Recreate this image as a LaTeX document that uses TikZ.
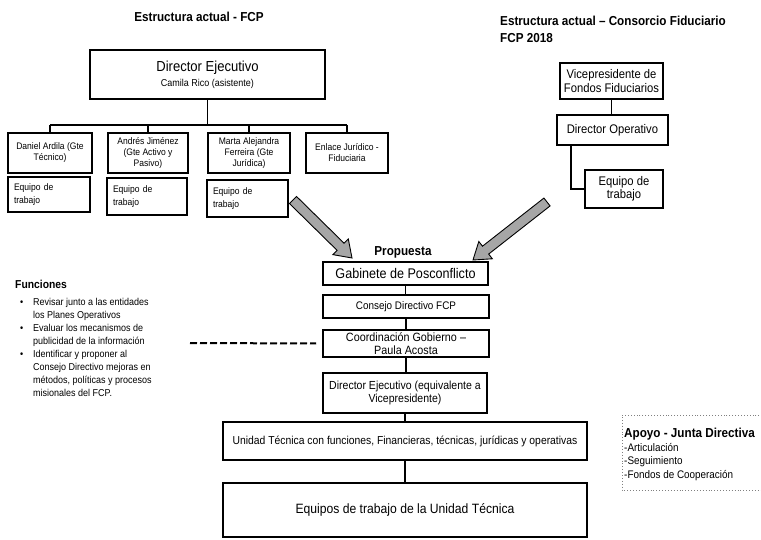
\documentclass[tikz,border=0pt]{standalone}
\usepackage{fontspec}
\setmainfont{Liberation Sans}[FakeStretch=0.9]
\usetikzlibrary{calc}
\newcommand\fsz[2]{\fontsize{#1}{#2}\selectfont}
\newcommand\fatarrow[2]{%
  \coordinate (hb) at ($(#2)!16pt!(#1)$);
  \draw[fatarr] ($(#1)!5pt!90:(#2)$) -- ($(hb)!5pt!-90:(#1)$) -- ($(hb)!11pt!-90:(#1)$) -- (#2)
    -- ($(hb)!11pt!90:(#1)$) -- ($(hb)!5pt!90:(#1)$) -- ($(#1)!5pt!-90:(#2)$) -- cycle;}
\begin{document}
\begin{tikzpicture}[x=1pt,y=-1pt,
  box/.style={draw, line width=1.6pt, inner sep=1pt, align=center},
  conn/.style={line width=1.5pt},
  fatarr/.style={fill=gray!70, draw=black, line width=0.9pt, line join=miter},
  ttl/.style={font=\bfseries\fsz{13}{17}, inner sep=0pt}]
\useasboundingbox (0,0) rectangle (761,540);

% ---------- top left: Estructura actual - FCP
\node[ttl] (t1) at (199,17) {Estructura actual - FCP};
\node[box, minimum width=235, minimum height=49] (dirE) at (207.5,74.5)
  {{\fsz{14.5}{16}Director Ejecutivo}\\[3pt]{\fsz{10}{12}Camila Rico (asistente)}};
\node[box, minimum width=84, minimum height=40, font=\fsz{9.5}{11}] (r1) at (50,153) {Daniel Ardila (Gte\\Técnico)};
\node[box, minimum width=80, minimum height=40, font=\fsz{9.5}{11}] (r2) at (148,153) {Andrés Jiménez\\(Gte Activo y\\Pasivo)};
\node[box, minimum width=82, minimum height=40, font=\fsz{9.5}{11}] (r3) at (249,153) {Marta Alejandra\\Ferreira (Gte\\Jurídica)};
\node[box, minimum width=82, minimum height=40, font=\fsz{9.5}{11}] (r4) at (347,153) {Enlace Jurídico -\\Fiduciaria};
\coordinate (bus) at (0,125);
\draw[conn] (dirE.south) -- (dirE.south |- bus);
\draw[conn] (r1.north |- bus) -- (r4.north |- bus);
\foreach \n in {r1,r2,r3,r4} \draw[conn] (\n.north |- bus) -- (\n.north);

\node[box, minimum width=82, minimum height=35, font=\fsz{9.5}{13}, align=left, text width=70] (e1) at (49,194.5) {Equipo de\\trabajo};
\node[box, minimum width=80, minimum height=37, font=\fsz{9.5}{13}, align=left, text width=68] (e2) at (147,196.5) {Equipo de\\trabajo};
\node[box, minimum width=81, minimum height=37, font=\fsz{9.5}{13}, align=left, text width=69] (e3) at (247.5,198.5) {Equipo de\\trabajo};

% ---------- top right: Consorcio
\node[ttl, anchor=north west, align=left] (t2) at (500,16) {Estructura actual – Consorcio Fiduciario\\FCP 2018};
\node[box, minimum width=103, minimum height=36, font=\fsz{12.5}{14}] (vp) at (611.5,81) {Vicepresidente de\\Fondos Fiduciarios};
\node[box, minimum width=111, minimum height=30, font=\fsz{12.5}{14}] (dop) at (612.5,130) {Director Operativo};
\node[box, minimum width=78, minimum height=38, font=\fsz{12.5}{13}] (eqr) at (624,189) {Equipo de\\trabajo};
\draw[conn] (vp.south) -- (vp.south |- dop.north);
\draw[conn] ($(dop.south west)+(15,0)$) |- (eqr.west);

% ---------- Propuesta
\node[ttl] (prop) at (403,252) {Propuesta};
\node[box, minimum width=165, minimum height=23, font=\fsz{14}{16}] (gab) at (405.5,273.5) {Gabinete de Posconflicto};
\node[box, minimum width=166, minimum height=23, font=\fsz{11}{13}] (con) at (406,306.5) {Consejo Directivo FCP};
\node[box, minimum width=166, minimum height=27, font=\fsz{12}{13.5}] (coo) at (406,343.5) {Coordinación Gobierno –\\Paula Acosta};
\node[box, minimum width=164, minimum height=40, font=\fsz{11.7}{13.5}] (dir) at (405,393) {Director Ejecutivo (equivalente a\\Vicepresidente)};
\node[box, minimum width=364, minimum height=38, font=\fsz{11.5}{13}] (uni) at (405,441) {Unidad Técnica con funciones, Financieras, técnicas, jurídicas y operativas};
\node[box, minimum width=364, minimum height=54, font=\fsz{13.5}{15}] (equ) at (405,510) {Equipos de trabajo de la Unidad Técnica};
\draw[conn] (gab.south) -- (gab.south |- con.north);
\draw[conn] (con.south) -- (con.south |- coo.north);
\draw[conn] (coo.south) -- (coo.south |- dir.north);
\draw[conn] (dir.south) -- (dir.south |- uni.north);
\draw[conn] (uni.south) -- (uni.south |- equ.north);

% ---------- fat arrows
\coordinate (a1s) at (293,200);
\coordinate (a1e) at (352,258);
\coordinate (a2s) at (547,202);
\coordinate (a2e) at (473,260);
\fatarrow{a1s}{a1e}
\fatarrow{a2s}{a2e}

% ---------- Funciones
\node[anchor=north west, inner sep=0pt, align=left, font=\fsz{10}{13}] (fun) at (15,280)
  {{\bfseries\fsz{11.5}{13}Funciones}\\[4pt]
   \makebox[18pt][l]{\hspace{5pt}•}Revisar junto a las entidades\\
   \hspace*{18pt}los Planes Operativos\\
   \makebox[18pt][l]{\hspace{5pt}•}Evaluar los mecanismos de\\
   \hspace*{18pt}publicidad de la información\\
   \makebox[18pt][l]{\hspace{5pt}•}Identificar y proponer al\\
   \hspace*{18pt}Consejo Directivo mejoras en\\
   \hspace*{18pt}métodos, políticas y procesos\\
   \hspace*{18pt}misionales del FCP.};
\coordinate (dstart) at (190,343);
\draw[line width=2pt, dash pattern=on 7pt off 3pt] (dstart) -- ($(coo.west)+(-6,0)$);

% ---------- Apoyo
\draw[gray, dotted, line width=0.9pt] (765,415) -- (622,415) -- (622,490) -- (765,490);
\node[anchor=north west, inner sep=0pt, align=left, font=\fsz{11}{13.5}] (apoyo) at (624,428)
  {{\bfseries\fsz{13}{13.5}Apoyo - Junta Directiva}\\
   -Articulación\\
   -Seguimiento\\
   -Fondos de Cooperación};
\end{tikzpicture}
\end{document}
